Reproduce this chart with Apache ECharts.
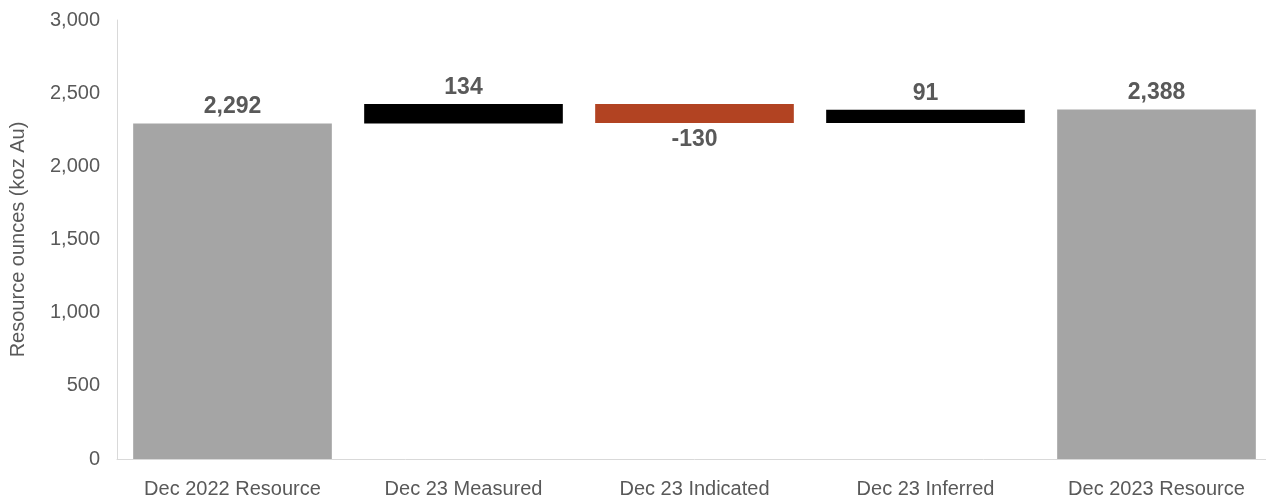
<!DOCTYPE html>
<html>
<head>
<meta charset="utf-8">
<script src="https://cdn.jsdelivr.net/npm/echarts@6/dist/echarts.min.js"></script>
<style>
  html, body { margin: 0; padding: 0; background: #fff; overflow: hidden; }
  #myChart { width: 1272px; height: 499px; }
</style>
</head>
<body>
<div id="myChart"></div>
<script>
var categories = ['Dec 2022 Resource', 'Dec 23 Measured', 'Dec 23 Indicated', 'Dec 23 Inferred', 'Dec 2023 Resource'];
var startValue = 2292;
var changes = [134, -130, 91];
var endValue = 2388;
var yTicks = [0, 500, 1000, 1500, 2000, 2500, 3000];

var grey = '#a5a5a5', black = '#000000', red = '#b24322';

function fmt(v) {
    return v.toLocaleString('en-US');
}

// build the invisible base and the visible segment of each bar
var baseData = ['-'];
var barData = [{value: startValue, itemStyle: {color: grey}, shown: startValue}];
var running = startValue;
changes.forEach(function (c) {
    var next = running + c;
    baseData.push(Math.min(running, next));
    barData.push({
        value: Math.abs(c),
        shown: c,
        itemStyle: {color: c < 0 ? red : black},
        label: {position: c < 0 ? 'bottom' : 'top'}
    });
    running = next;
});
baseData.push('-');
barData.push({value: endValue, itemStyle: {color: grey}, shown: endValue});

var myChart = echarts.init(document.getElementById('myChart'));
var option = {
    animation: false,
    grid: {left: 117, right: 0, top: 20, bottom: 40},
    xAxis: {
        type: 'category',
        data: categories,
        axisTick: {show: false},
        axisLine: {lineStyle: {color: '#d9d9d9', width: 1}},
        axisLabel: {
            color: '#595959',
            fontFamily: 'Liberation Sans',
            fontSize: 20,
            margin: 20
        }
    },
    yAxis: {
        type: 'value',
        min: yTicks[0],
        max: yTicks[yTicks.length - 1],
        interval: 500,
        name: 'Resource ounces (koz Au)',
        nameLocation: 'middle',
        nameGap: 89,
        nameTextStyle: {color: '#595959', fontFamily: 'Liberation Sans', fontSize: 20},
        splitLine: {show: false},
        axisLine: {show: true, lineStyle: {color: '#d9d9d9', width: 1}},
        axisTick: {show: false},
        axisLabel: {
            color: '#595959',
            fontFamily: 'Liberation Sans',
            fontSize: 20,
            margin: 17,
            formatter: function (v) { return fmt(v); }
        }
    },
    series: [
        {
            type: 'bar',
            stack: 'w',
            data: baseData,
            itemStyle: {color: 'transparent'},
            barCategoryGap: '14%',
            silent: true
        },
        {
            type: 'bar',
            stack: 'w',
            data: barData,
            barCategoryGap: '14%',
            label: {
                show: true,
                position: 'top',
                distance: 5,
                color: '#595959',
                fontFamily: 'Liberation Sans',
                fontWeight: 'bold',
                fontSize: 23,
                formatter: function (p) { return fmt(p.data.shown); }
            }
        }
    ]
};
myChart.setOption(option);
</script>
</body>
</html>
